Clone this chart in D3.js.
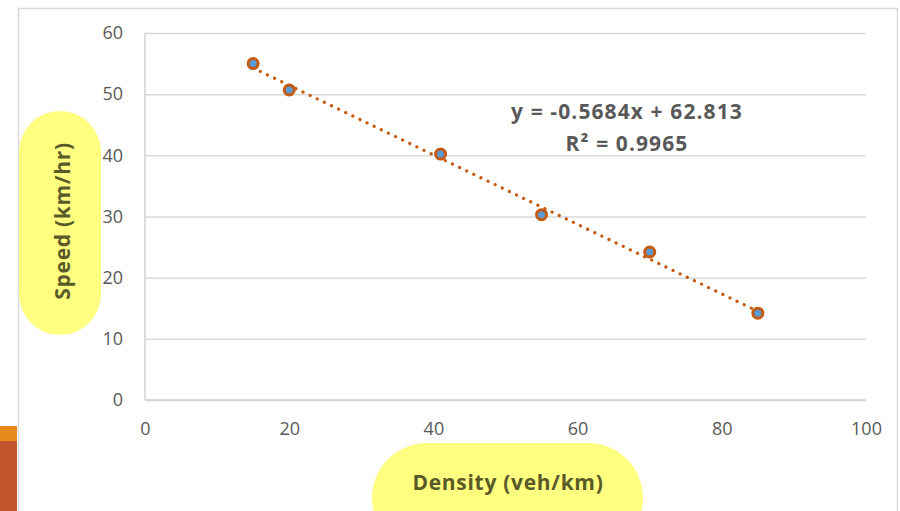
<!DOCTYPE html>
<html>
<head>
<meta charset="utf-8">
<script src="https://cdn.jsdelivr.net/npm/d3@7"></script>
<style>
  body { margin: 0; background: #fff; }
  svg { display: block; font-family: "Open Sans", "Noto Sans", sans-serif; }
</style>
</head>
<body>
<div class="vis-scatter"></div>
<script>
// data
const density = [15, 20, 41, 55, 70, 85];
const speed = [55, 50.7, 40.2, 30.3, 24.2, 14.2];
const xTicks = [0, 20, 40, 60, 80, 100];
const yTicks = [0, 10, 20, 30, 40, 50, 60];
// trendline as printed on the chart
const slope = -0.5684;
const intercept = 62.813;
const eqLabel = 'y = -0.5684x + 62.813';
const r2Label = 'R² = 0.9965';

const width = 900, height = 511;
const margin = {top: 33, right: 34, bottom: 111, left: 145};
const innerWidth = width - margin.left - margin.right;
const innerHeight = height - margin.top - margin.bottom;

const svg = d3.select('.vis-scatter').append('svg')
    .attr('width', width)
    .attr('height', height);

// slide bits on the left edge
svg.append('rect').attr('x', 0).attr('y', 426).attr('width', 17).attr('height', 15).attr('fill', '#e8891c');
svg.append('rect').attr('x', 0).attr('y', 441).attr('width', 17).attr('height', 70).attr('fill', '#c0552b');

// chart border
svg.append('rect')
    .attr('x', 18.5).attr('y', 8.5)
    .attr('width', 879).attr('height', 520)
    .attr('fill', '#fff').attr('stroke', '#d9d9d9').attr('stroke-width', 1.5);

const graph = svg.append('g')
    .attr('transform', `translate(${margin.left}, ${margin.top})`);

const xScale = d3.scaleLinear().domain([0, 100]).range([0, innerWidth]);
const yScale = d3.scaleLinear().domain([0, 60]).range([innerHeight, 0]);

// gridlines
graph.append('g')
    .call(d3.axisLeft(yScale).tickValues(yTicks).tickSize(-innerWidth).tickFormat(''))
    .call(g => g.select('.domain').remove())
    .call(g => g.selectAll('line').attr('stroke', '#d9d9d9').attr('stroke-width', 1.5));

// axis lines
graph.append('line')
    .attr('x1', 0).attr('x2', 0).attr('y1', 0).attr('y2', innerHeight)
    .attr('stroke', '#d0d0d0').attr('stroke-width', 1.5);
graph.append('line')
    .attr('x1', 0).attr('x2', innerWidth).attr('y1', innerHeight).attr('y2', innerHeight)
    .attr('stroke', '#d0d0d0').attr('stroke-width', 1.5);

// tick labels
const gY = graph.append('g')
    .call(d3.axisLeft(yScale).tickValues(yTicks).tickSize(0).tickPadding(22));
gY.select('.domain').remove();
gY.selectAll('text').attr('fill', '#595959').style('font-size', '18px')
    .style('font-family', '"Open Sans", sans-serif');

const gX = graph.append('g')
    .attr('transform', `translate(0, ${innerHeight})`)
    .call(d3.axisBottom(xScale).tickValues(xTicks).tickSize(0).tickPadding(22));
gX.select('.domain').remove();
gX.selectAll('text').attr('fill', '#595959').style('font-size', '18px')
    .style('font-family', '"Open Sans", sans-serif');

// trendline, dotted
const x0 = d3.min(density), x1 = d3.max(density);
graph.append('line')
    .attr('x1', xScale(x0)).attr('y1', yScale(slope * x0 + intercept))
    .attr('x2', xScale(x1)).attr('y2', yScale(slope * x1 + intercept))
    .attr('stroke', '#c55a11')
    .attr('stroke-width', 3.2)
    .attr('stroke-linecap', 'round')
    .attr('stroke-dasharray', '0.1 7.8');

// markers
const pts = density.map((d, i) => ({x: d, y: speed[i]}));
graph.selectAll('circle.pt')
    .data(pts)
    .enter()
    .append('circle')
      .attr('class', 'pt')
      .attr('cx', d => xScale(d.x))
      .attr('cy', d => yScale(d.y))
      .attr('r', 5)
      .attr('fill', '#5b9bd5')
      .attr('stroke', '#c55a11')
      .attr('stroke-width', 3);

// equation label
svg.append('text')
    .attr('x', 627).attr('y', 119)
    .attr('text-anchor', 'middle')
    .attr('fill', '#595959')
    .style('font-size', '21px').style('font-weight', 'bold')
    .style('letter-spacing', '1.1px')
    .text(eqLabel);
svg.append('text')
    .attr('x', 627).attr('y', 151)
    .attr('text-anchor', 'middle')
    .attr('fill', '#595959')
    .style('font-size', '21px').style('font-weight', 'bold')
    .style('letter-spacing', '1.1px')
    .text(r2Label);

// y axis title on yellow pill
svg.append('rect')
    .attr('x', 19).attr('y', 111).attr('width', 82).attr('height', 224)
    .attr('rx', 41).attr('ry', 41)
    .attr('fill', '#ffff80');
svg.append('text')
    .attr('transform', 'translate(70, 221) rotate(-90)')
    .attr('text-anchor', 'middle')
    .attr('fill', '#5a5a28')
    .style('font-size', '21px').style('font-weight', 'bold')
    .style('letter-spacing', '0.7px')
    .text('Speed (km/hr)');

// x axis title on yellow pill
svg.append('rect')
    .attr('x', 372).attr('y', 443).attr('width', 271).attr('height', 110)
    .attr('rx', 55).attr('ry', 55)
    .attr('fill', '#ffff80');
svg.append('text')
    .attr('x', 508).attr('y', 490)
    .attr('text-anchor', 'middle')
    .attr('fill', '#5a5a28')
    .style('font-size', '21px').style('font-weight', 'bold')
    .style('letter-spacing', '0.7px')
    .text('Density (veh/km)');
</script>
</body>
</html>
